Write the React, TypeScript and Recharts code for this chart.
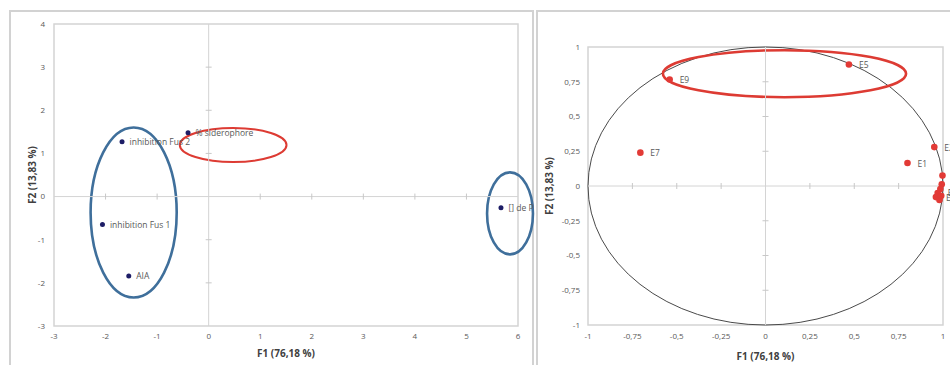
import React from 'react';
import {
  ScatterChart,
  Scatter,
  XAxis,
  YAxis,
  ReferenceLine,
  ReferenceArea,
  ReferenceDot,
  LabelList,
} from 'recharts';

// left panel: observations
const obsNames = ['inhibition Fus 2', '% siderophore', 'inhibition Fus 1', 'AIA', '[] de P'];
const obsF1 = [-1.68, -0.4, -2.06, -1.55, 5.67];
const obsF2 = [1.27, 1.48, -0.65, -1.84, -0.26];
const leftXTicks = [-3, -2, -1, 0, 1, 2, 3, 4, 5, 6];
const leftYTicks = [-3, -2, -1, 0, 1, 2, 3, 4];

// right panel: correlation circle
const varNames = ['E9', 'E7', 'E5', 'E1', 'E2', 'E3', 'E4', 'E6', 'E8', 'E10', 'E11', 'E12'];
const varF1 = [-0.54, -0.705, 0.47, 0.8, 0.951, 0.997, 0.993, 0.985, 0.97, 0.96, 0.98, 0.99];
const varF2 = [0.766, 0.24, 0.874, 0.165, 0.28, 0.075, 0.012, -0.022, -0.05, -0.08, -0.1, -0.07];
const rightTicks = [-1, -0.75, -0.5, -0.25, 0, 0.25, 0.5, 0.75, 1];

// hand-drawn highlight ellipses [x1, x2, y1, y2, colour]
const leftMarks: [number, number, number, number, string][] = [
  [-2.29, -0.62, -2.34, 1.6, '#3f6f9b'],
  [-0.56, 1.51, 0.8, 1.59, '#dd3b33'],
  [5.4, 6.29, -1.34, 0.56, '#3f6f9b'],
];
const rightMarks: [number, number, number, number, string][] = [[-0.578, 0.792, 0.639, 0.977, '#dd3b33']];

const obsData = obsNames.map((name, i) => ({ name, x: obsF1[i], y: obsF2[i] }));
const varData = varNames.map((name, i) => ({ name, x: varF1[i], y: varF2[i] }));

const fmt = (v: number) => String(v).replace('.', ',');
const tickStyle = { fontSize: 8, fill: '#595959', fontFamily: 'Open Sans' };
const gridGrey = '#d4d4d4';

const ellipse = (color: string, width: number) => (p: any) => (
  <ellipse
    cx={p.x + p.width / 2}
    cy={p.y + p.height / 2}
    rx={Math.abs(p.width) / 2}
    ry={Math.abs(p.height) / 2}
    fill="none"
    stroke={color}
    strokeWidth={width}
  />
);

const hTick = (p: any) => <line x1={p.cx - 3} x2={p.cx + 3} y1={p.cy} y2={p.cy} stroke="#c8c8c8" />;
const vTick = (p: any) => <line x1={p.cx} x2={p.cx} y1={p.cy - 3} y2={p.cy + 3} stroke="#c8c8c8" />;

// point label to the right of a marker, on one line
const pointLabel = (gap: number) => (p: any) => {
  const vb = p.viewBox && p.viewBox.width != null ? p.viewBox : p;
  return (
    <text
      x={vb.x + vb.width / 2 + gap}
      y={vb.y + vb.height / 2}
      dominantBaseline="central"
      fontSize={8.5}
      fill="#595959"
      fontFamily="Open Sans"
    >
      {p.value}
    </text>
  );
};

const XTitle = (dy: number) => (p: any) => (
  <text
    x={p.viewBox.x + p.viewBox.width / 2}
    y={p.viewBox.y + dy}
    textAnchor="middle"
    dominantBaseline="central"
    fontSize={10}
    fontWeight="bold"
    fill="#404040"
    fontFamily="Open Sans"
  >
    F1 (76,18 %)
  </text>
);

const YTitle = (dx: number) => (p: any) => {
  const cx = p.viewBox.x + dx;
  const cy = p.viewBox.y + p.viewBox.height / 2;
  return (
    <text
      x={cx}
      y={cy}
      transform={`rotate(-90 ${cx} ${cy})`}
      textAnchor="middle"
      dominantBaseline="central"
      fontSize={10}
      fontWeight="bold"
      fill="#404040"
      fontFamily="Open Sans"
    >
      F2 (13,83 %)
    </text>
  );
};

const panel = (left: number, width: number): React.CSSProperties => ({
  position: 'absolute',
  left,
  top: 10,
  width,
  height: 400,
  border: '2px solid #d2d2d2',
});

export default function App() {
  return (
    <div
      style={{
        position: 'fixed',
        left: 0,
        top: 0,
        width: 950,
        height: 365,
        overflow: 'hidden',
        background: '#fff',
        fontFamily: 'Open Sans',
      }}
    >
      <div style={panel(9, 521)} />
      <div style={panel(536, 420)} />

      <div style={{ position: 'absolute', left: 0, top: 0 }}>
        <ScatterChart width={536} height={365} margin={{ top: 24, right: 18, bottom: 0, left: 8 }}>
          <XAxis
            type="number"
            dataKey="x"
            domain={[-3, 6]}
            ticks={leftXTicks}
            axisLine={false}
            tickLine={false}
            tickSize={0}
            tickMargin={7}
            height={39}
            tick={tickStyle}
            label={{ content: XTitle(26.5) }}
          />
          <YAxis
            type="number"
            dataKey="y"
            domain={[-3, 4]}
            ticks={leftYTicks}
            axisLine={false}
            tickLine={false}
            tickSize={0}
            tickMargin={9}
            width={46}
            tick={tickStyle}
            label={{ content: YTitle(24) }}
          />
          <ReferenceArea x1={-3} x2={6} y1={-3} y2={4} fill="none" stroke={gridGrey} strokeWidth={1.5} />
          <ReferenceLine x={0} stroke={gridGrey} />
          <ReferenceLine y={0} stroke={gridGrey} />
          {leftYTicks.filter((t) => t > -3 && t < 4 && t !== 0).map((t) => (
            <ReferenceDot key={'ly' + t} x={0} y={t} r={0} shape={hTick} />
          ))}
          {leftXTicks.filter((t) => t > -3 && t < 6 && t !== 0).map((t) => (
            <ReferenceDot key={'lx' + t} x={t} y={0} r={0} shape={vTick} />
          ))}
          <Scatter
            data={obsData}
            isAnimationActive={false}
            shape={(p: any) => <circle cx={p.cx} cy={p.cy} r={2.5} fill="#1d1d66" />}
          >
            <LabelList dataKey="name" content={pointLabel(7.5)} />
          </Scatter>
          {leftMarks.map(([x1, x2, y1, y2, c], i) => (
            <ReferenceArea
              key={'lm' + i}
              x1={x1}
              x2={x2}
              y1={y1}
              y2={y2}
              ifOverflow="visible"
              shape={ellipse(c, c === '#dd3b33' ? 2 : 2.6)}
            />
          ))}
        </ScatterChart>
      </div>

      <div style={{ position: 'absolute', left: 537, top: 0 }}>
        <ScatterChart width={413} height={365} margin={{ top: 47, right: 7, bottom: 0, left: 0 }}>
          <XAxis
            type="number"
            dataKey="x"
            domain={[-1, 1]}
            ticks={rightTicks}
            tickFormatter={fmt}
            axisLine={false}
            tickLine={false}
            tickSize={0}
            tickMargin={8}
            height={40}
            tick={tickStyle}
            label={{ content: XTitle(30.5) }}
          />
          <YAxis
            type="number"
            dataKey="y"
            domain={[-1, 1]}
            ticks={rightTicks}
            tickFormatter={fmt}
            axisLine={false}
            tickLine={false}
            tickSize={0}
            tickMargin={8}
            width={51}
            tick={tickStyle}
            label={{ content: YTitle(12) }}
          />
          <ReferenceArea x1={-1} x2={1} y1={-1} y2={1} fill="none" stroke={gridGrey} strokeWidth={1.5} />
          <ReferenceLine x={0} stroke={gridGrey} />
          <ReferenceLine y={0} stroke={gridGrey} />
          {rightTicks.filter((t) => Math.abs(t) < 1 && t !== 0).map((t) => (
            <ReferenceDot key={'ry' + t} x={0} y={t} r={0} shape={hTick} />
          ))}
          {rightTicks.filter((t) => Math.abs(t) < 1 && t !== 0).map((t) => (
            <ReferenceDot key={'rx' + t} x={t} y={0} r={0} shape={vTick} />
          ))}
          <ReferenceArea x1={-1} x2={1} y1={-1} y2={1} ifOverflow="visible" shape={ellipse('#4a4a4a', 1)} />
          <Scatter
            data={varData}
            isAnimationActive={false}
            shape={(p: any) => <circle cx={p.cx} cy={p.cy} r={3.3} fill="#e23a36" />}
          >
            <LabelList dataKey="name" content={pointLabel(10)} />
          </Scatter>
          {rightMarks.map(([x1, x2, y1, y2, c], i) => (
            <ReferenceArea
              key={'rm' + i}
              x1={x1}
              x2={x2}
              y1={y1}
              y2={y2}
              ifOverflow="visible"
              shape={ellipse(c, 2.6)}
            />
          ))}
        </ScatterChart>
      </div>
    </div>
  );
}
